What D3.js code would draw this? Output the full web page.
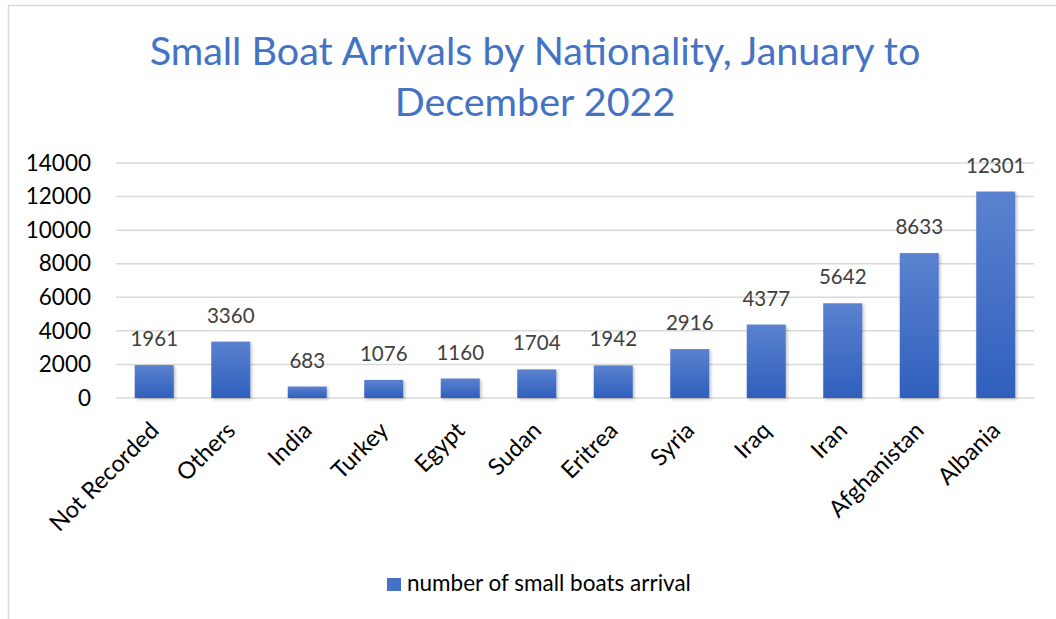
<!DOCTYPE html>
<html>
<head>
<meta charset="utf-8">
<script src="https://cdn.jsdelivr.net/npm/d3@7"></script>
<style>
  body { margin: 0; background: #fff; }
  svg { font-family: Lato, "Open Sans", sans-serif; }
</style>
</head>
<body>
<svg id="chart"></svg>
<script>
const categories = ["Not Recorded", "Others", "India", "Turkey", "Egypt", "Sudan", "Eritrea", "Syria", "Iraq", "Iran", "Afghanistan", "Albania"];
const arrivals = [1961, 3360, 683, 1076, 1160, 1704, 1942, 2916, 4377, 5642, 8633, 12301];
const yTicks = [0, 2000, 4000, 6000, 8000, 10000, 12000, 14000];
const titleLines = ["Small Boat Arrivals by Nationality, January to", "December 2022"];
const seriesName = "number of small boats arrival";

const width = 1056, height = 619;
const margin = {top: 163, right: 22, bottom: 221, left: 116};

const svg = d3.select("#chart").attr("width", width).attr("height", height);

// chart frame
svg.append("path")
    .attr("d", `M8.5,${height} L8.5,5.5 L${width},5.5`)
    .attr("fill", "none")
    .attr("stroke", "#d9d9d9")
    .attr("stroke-width", 1.5);

const defs = svg.append("defs");
const grad = defs.append("linearGradient")
    .attr("id", "barGrad")
    .attr("x1", 0).attr("y1", 0).attr("x2", 0).attr("y2", 1);
grad.append("stop").attr("offset", "0%").attr("stop-color", "#5b82cf");
grad.append("stop").attr("offset", "100%").attr("stop-color", "#2f5fbd");

const shadow = defs.append("filter").attr("id", "shadow")
    .attr("x", "-20%").attr("y", "-10%").attr("width", "150%").attr("height", "130%");
shadow.append("feDropShadow")
    .attr("dx", 1.5).attr("dy", 1.5).attr("stdDeviation", 1.5)
    .attr("flood-color", "#000").attr("flood-opacity", 0.25);

const innerW = width - margin.left - margin.right;
const innerH = height - margin.top - margin.bottom;

const g = svg.append("g").attr("transform", `translate(${margin.left},${margin.top})`);

const x = d3.scaleBand().domain(categories).range([0, innerW]).paddingInner(0.49).paddingOuter(0.245);
const y = d3.scaleLinear().domain([0, 14000]).range([innerH, 0]);

// title
svg.append("text")
    .attr("x", 535).attr("y", 65)
    .attr("text-anchor", "middle")
    .attr("fill", "#4472c4")
    .attr("font-size", 39.5)
    .selectAll("tspan")
    .data(titleLines)
    .join("tspan")
    .attr("x", 535)
    .attr("dy", (d, i) => i === 0 ? 0 : 51)
    .text(d => d);

// gridlines
g.append("g")
    .selectAll("line")
    .data(yTicks)
    .join("line")
    .attr("x1", 0).attr("x2", innerW)
    .attr("y1", d => y(d)).attr("y2", d => y(d))
    .attr("stroke", "#d9d9d9")
    .attr("stroke-width", 1.5);

// y axis
const yAxis = g.append("g")
    .call(d3.axisLeft(y).tickValues(yTicks).tickSize(0).tickPadding(25).tickFormat(d3.format("d")));
yAxis.select(".domain").remove();
yAxis.selectAll("text")
    .attr("font-size", 22.5)
    .attr("fill", "#000")
    .attr("font-family", "Lato, sans-serif");

// x axis
const xAxis = g.append("g")
    .attr("transform", `translate(0,${innerH})`)
    .call(d3.axisBottom(x).tickSize(0));
xAxis.select(".domain").remove();
xAxis.selectAll("text")
    .attr("font-size", 23.5)
    .attr("fill", "#000")
    .attr("font-family", "Lato, sans-serif")
    .attr("text-anchor", "end")
    .attr("dy", "0.35em")
    .attr("transform", "translate(-2,26) rotate(-45)");

// bars
g.append("g")
    .selectAll("rect")
    .data(arrivals)
    .join("rect")
    .attr("x", (d, i) => x(categories[i]))
    .attr("y", d => y(d))
    .attr("width", x.bandwidth())
    .attr("height", d => innerH - y(d))
    .attr("fill", "url(#barGrad)")
    .attr("filter", "url(#shadow)");

// value labels
g.append("g")
    .selectAll("text")
    .data(arrivals)
    .join("text")
    .attr("x", (d, i) => x(categories[i]) + x.bandwidth() / 2)
    .attr("y", d => y(d) - 19)
    .attr("text-anchor", "middle")
    .attr("font-size", 20.5)
    .attr("fill", "#404040")
    .text(d => d);

// legend
const legend = svg.append("g").attr("transform", "translate(387,578)");
legend.append("rect")
    .attr("width", 14).attr("height", 13)
    .attr("fill", "#4472c4");
legend.append("text")
    .attr("x", 20).attr("y", 13)
    .attr("font-size", 22.5)
    .attr("fill", "#000")
    .text(seriesName);
</script>
</body>
</html>
